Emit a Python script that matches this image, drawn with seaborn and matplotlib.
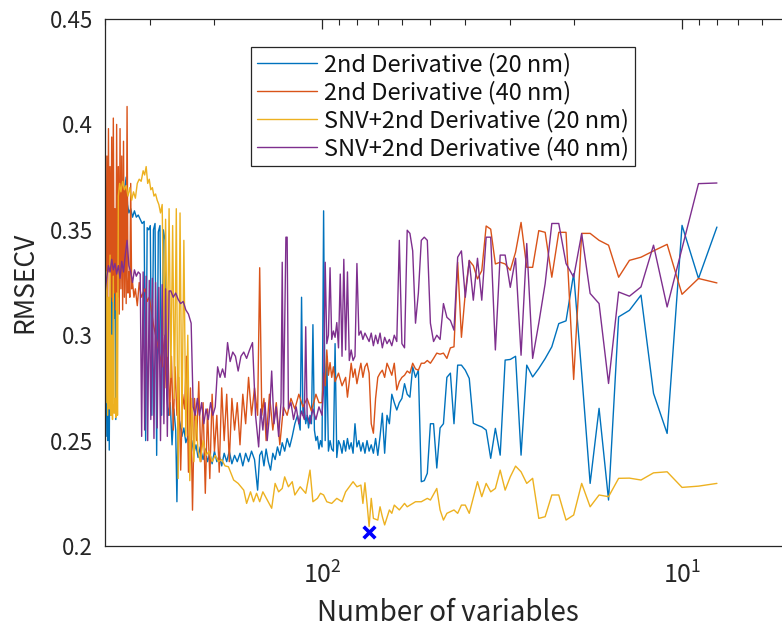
import matplotlib
matplotlib.use("Agg")
import matplotlib.pyplot as plt
import pandas as pd
import seaborn as sns
from matplotlib.ticker import LogLocator, NullLocator, NullFormatter, FixedLocator, FixedFormatter

# ---------------- data ----------------
series_names = ["2nd Derivative (20 nm)", "2nd Derivative (40 nm)",
                "SNV+2nd Derivative (20 nm)", "SNV+2nd Derivative (40 nm)"]
series_colors = ["#0072BD", "#D95319", "#EDB120", "#7E2F8E"]

# (number of variables, RMSECV)
blue_pts = [
    (400, 0.330), (398, 0.252), (396, 0.343), (394, 0.250), (392, 0.300), (390, 0.2455),
    (388, 0.318), (386, 0.262), (384, 0.330), (382, 0.290), (380, 0.325), (378, 0.308),
    (376, 0.320), (374, 0.260), (372, 0.330), (370, 0.328), (368, 0.340), (364, 0.362),
    (360, 0.368), (356, 0.365), (353, 0.370), (350, 0.375), (347, 0.362), (344, 0.358),
    (340, 0.360), (336, 0.356), (332, 0.359), (328, 0.356), (324, 0.357), (320, 0.355),
    (316, 0.353), (312, 0.354), (309, 0.250), (306, 0.351), (303, 0.350), (300, 0.352),
    (297, 0.262), (294, 0.350), (291, 0.353), (288, 0.243), (285, 0.349), (282, 0.352),
    (279, 0.262), (276, 0.350), (273, 0.345), (270, 0.272), (267, 0.262), (264, 0.268),
    (261, 0.248), (258, 0.265), (255, 0.255), (253, 0.221), (251, 0.262), (248, 0.258),
    (245, 0.252), (242, 0.256), (239, 0.249), (236, 0.252), (233, 0.247), (230, 0.250),
    (227, 0.244), (224, 0.248), (221, 0.242), (218, 0.247), (214, 0.241), (211, 0.246),
    (208, 0.240), (205, 0.244), (202, 0.239), (199, 0.245), (196, 0.240), (193, 0.243),
    (190, 0.238), (187, 0.244), (184, 0.240), (181, 0.245), (178, 0.239), (175, 0.243),
    (172, 0.240), (169, 0.244), (166, 0.238), (163, 0.244), (160, 0.240), (157, 0.245),
    (154, 0.241), (151, 0.2265), (149, 0.243), (147, 0.245), (145, 0.238), (143, 0.246),
    (141, 0.240), (139, 0.236), (137, 0.244), (135, 0.241), (133, 0.247), (131, 0.243),
    (129, 0.249), (127, 0.245), (125, 0.251), (123, 0.247), (121, 0.252), (119, 0.258),
    (117, 0.262), (115, 0.255), (114, 0.318), (113, 0.262), (112, 0.266), (111, 0.258),
    (110, 0.262), (109, 0.256), (108, 0.262), (107, 0.258), (106, 0.305), (105, 0.255),
    (104, 0.250), (103, 0.252), (102, 0.246), (101, 0.250), (100, 0.247), (99, 0.359),
    (98, 0.250), (97, 0.290), (96, 0.245), (95, 0.250), (94, 0.246), (93, 0.245),
    (92, 0.296), (91, 0.242), (90, 0.250), (89, 0.248), (88, 0.244), (87, 0.250),
    (86, 0.245), (85, 0.251), (84, 0.246), (83, 0.249), (82, 0.244), (81, 0.258),
    (80, 0.247), (79, 0.250), (78, 0.245), (77, 0.249), (76, 0.244), (75, 0.250),
    (74, 0.245), (73, 0.248), (72, 0.244), (71, 0.251), (70, 0.243), (69, 0.252),
    (68, 0.263), (67, 0.244), (66, 0.262), (65, 0.258), (64, 0.272), (63, 0.268),
    (62, 0.2645), (61, 0.268), (60, 0.270), (59, 0.277), (58, 0.272), (57, 0.2706),
    (56, 0.285), (55, 0.280), (54, 0.2834), (53, 0.2305), (52, 0.231), (51, 0.2345),
    (50, 0.258), (49, 0.258), (48, 0.237), (47, 0.256), (46, 0.258), (45, 0.280),
    (44, 0.282), (43, 0.258), (42, 0.2858), (41, 0.2858), (40, 0.2834), (39, 0.2795),
    (38, 0.2582), (37, 0.2573), (36, 0.2565), (35, 0.255), (34, 0.2416), (33, 0.2558),
    (32, 0.2431), (31, 0.2882), (30, 0.2885), (29, 0.290), (28, 0.2431), (27, 0.2858),
    (26, 0.2802), (25, 0.2842), (24, 0.2889), (23, 0.2945), (22, 0.3055), (21, 0.3068),
    (20, 0.3292), (19, 0.282), (18, 0.2297), (17, 0.2653), (16, 0.2218), (15, 0.3087),
    (14, 0.3118), (13, 0.3190), (12, 0.2724), (11, 0.2534), (10, 0.3521), (9, 0.3269),
    (8, 0.3513),
]

orange_pts = [
    (400, 0.370), (398, 0.315), (396, 0.385), (394, 0.312), (392, 0.398), (390, 0.330),
    (388, 0.380), (386, 0.318), (384, 0.394), (382, 0.316), (380, 0.403), (378, 0.320),
    (376, 0.360), (374, 0.312), (372, 0.400), (370, 0.318), (368, 0.380), (366, 0.310),
    (364, 0.398), (362, 0.322), (360, 0.385), (358, 0.312), (356, 0.392), (354, 0.318),
    (352, 0.370), (350, 0.315), (348, 0.4085), (346, 0.320), (344, 0.330), (342, 0.318),
    (340, 0.372), (338, 0.322), (336, 0.325), (333, 0.318), (330, 0.322), (326, 0.314),
    (322, 0.325), (318, 0.318), (314, 0.320), (310, 0.322), (306, 0.316), (302, 0.318),
    (298, 0.312), (294, 0.305), (290, 0.300), (286, 0.295), (282, 0.290), (278, 0.285),
    (274, 0.300), (271, 0.275), (268, 0.295), (265, 0.262), (262, 0.290), (259, 0.255),
    (256, 0.285), (253, 0.262), (250, 0.280), (247, 0.236), (244, 0.272), (241, 0.265),
    (238, 0.290), (235, 0.235), (232, 0.275), (229, 0.217), (226, 0.270), (223, 0.250),
    (220, 0.278), (217, 0.240), (214, 0.268), (211, 0.225), (208, 0.265), (205, 0.232),
    (202, 0.272), (199, 0.245), (196, 0.262), (193, 0.235), (190, 0.275), (187, 0.250),
    (184, 0.272), (181, 0.240), (178, 0.270), (175, 0.255), (172, 0.268), (169, 0.248),
    (166, 0.272), (163, 0.258), (160, 0.280), (157, 0.262), (154, 0.275), (151, 0.262),
    (149, 0.332), (147, 0.262), (145, 0.270), (143, 0.250), (140, 0.272), (137, 0.255),
    (134, 0.268), (131, 0.248), (128, 0.266), (125, 0.262), (122, 0.270), (119, 0.265),
    (116, 0.272), (113, 0.266), (110, 0.270), (107, 0.264), (104, 0.272), (102, 0.268),
    (100, 0.268), (99, 0.282), (98, 0.276), (97, 0.293), (96, 0.281), (95, 0.287),
    (94, 0.280), (93, 0.285), (92, 0.278), (90, 0.282), (88, 0.276), (86, 0.280),
    (85, 0.2706), (84, 0.278), (83, 0.2867), (82, 0.280), (81, 0.284), (80, 0.277),
    (79, 0.282), (78, 0.2867), (77, 0.280), (76, 0.285), (75, 0.2867), (74, 0.282),
    (73, 0.258), (72, 0.2535), (71, 0.270), (70, 0.280), (69, 0.282), (68, 0.2834),
    (67, 0.280), (66, 0.2867), (65, 0.284), (64, 0.281), (63, 0.2867), (62, 0.274),
    (61, 0.278), (60, 0.280), (59, 0.281), (58, 0.283), (57, 0.282), (56, 0.2867),
    (55, 0.284), (54, 0.2834), (53, 0.2867), (52, 0.2867), (51, 0.288), (50, 0.2867),
    (49, 0.289), (48, 0.2915), (47, 0.291), (46, 0.2915), (45, 0.289), (44, 0.294),
    (43, 0.2945), (42, 0.3346), (41, 0.299), (40, 0.320), (39, 0.3354), (38, 0.333),
    (37, 0.3267), (36, 0.3306), (35, 0.3518), (34, 0.3503), (33, 0.3338), (32, 0.3346),
    (31, 0.3338), (30, 0.3308), (29, 0.3394), (28, 0.3535), (27, 0.3322), (26, 0.3322),
    (25, 0.3496), (24, 0.3488), (23, 0.3275), (22, 0.3488), (21, 0.3488), (20, 0.279),
    (19, 0.3483), (18, 0.3483), (17, 0.345), (16, 0.3427), (15, 0.3275), (14, 0.3355),
    (13, 0.337), (12, 0.340), (11, 0.3431), (10, 0.3194), (9, 0.3269), (8, 0.3248),
]

yellow_pts = [
    (400, 0.340), (398, 0.268), (396, 0.330), (394, 0.262), (392, 0.318), (390, 0.265),
    (388, 0.338), (386, 0.262), (384, 0.300), (382, 0.260), (380, 0.328), (378, 0.263),
    (376, 0.270), (374, 0.261), (372, 0.320), (370, 0.262), (368, 0.366), (365, 0.372),
    (362, 0.368), (358, 0.373), (354, 0.369), (350, 0.371), (346, 0.366), (342, 0.370),
    (338, 0.364), (334, 0.368), (330, 0.365), (326, 0.372), (322, 0.374), (318, 0.373),
    (314, 0.378), (311, 0.376), (308, 0.380), (305, 0.372), (302, 0.374), (299, 0.369),
    (296, 0.370), (293, 0.366), (290, 0.367), (287, 0.364), (284, 0.362), (281, 0.358),
    (278, 0.362), (275, 0.300), (272, 0.355), (269, 0.290), (266, 0.360), (263, 0.280),
    (260, 0.352), (257, 0.270), (254, 0.360), (251, 0.232), (248, 0.358), (245, 0.256),
    (242, 0.345), (239, 0.252), (236, 0.300), (233, 0.231), (230, 0.270), (227, 0.240),
    (224, 0.262), (221, 0.245), (218, 0.240), (214, 0.250), (210, 0.243), (206, 0.245),
    (202, 0.240), (198, 0.243), (194, 0.240), (190, 0.241), (186, 0.238), (182, 0.2376),
    (176, 0.2313), (171, 0.2297), (165, 0.2265), (162, 0.2202), (158, 0.2257), (155, 0.221),
    (152, 0.225), (149, 0.221), (146, 0.2257), (142, 0.2218), (138, 0.2179), (135, 0.2297),
    (132, 0.2257), (129, 0.2273), (127, 0.2328), (124, 0.2281), (121, 0.2305), (119, 0.2242),
    (115, 0.2281), (111, 0.2250), (108, 0.236), (106, 0.2210), (103, 0.2226), (101, 0.225),
    (99, 0.2242), (97, 0.221), (94, 0.2202), (91, 0.2226), (88, 0.221), (86, 0.2257),
    (84, 0.2281), (82, 0.2305), (80, 0.2281), (78, 0.2289), (77, 0.2202), (76, 0.230),
    (75, 0.2202), (74, 0.2092), (73, 0.2226), (72, 0.2131), (70, 0.2123), (69, 0.2186),
    (68, 0.2139), (67, 0.210), (65, 0.2171), (64, 0.2155), (63, 0.2194), (61, 0.2171),
    (59, 0.2202), (58, 0.2186), (56, 0.2202), (55, 0.221), (53, 0.221), (51, 0.2226),
    (50, 0.2218), (48, 0.2273), (47, 0.2171), (46, 0.2123), (45, 0.2155), (44, 0.2163),
    (43, 0.2171), (42, 0.2155), (41, 0.2194), (40, 0.2194), (39, 0.2155), (37, 0.2305),
    (36, 0.2234), (35, 0.2297), (34, 0.2257), (33, 0.2273), (32, 0.236), (31, 0.2265),
    (30, 0.2328), (29, 0.2379), (28, 0.2352), (27, 0.2297), (26, 0.2321), (25, 0.2131),
    (24, 0.2139), (23, 0.2242), (22, 0.2242), (21, 0.2123), (20, 0.2147), (19, 0.2297),
    (18, 0.2186), (17, 0.2242), (16, 0.2234), (15, 0.2321), (14, 0.2322), (13, 0.2313),
    (12, 0.2347), (11, 0.2352), (10, 0.2278), (9, 0.2284), (8, 0.2297),
]

purple_pts = [
    (400, 0.3213), (396, 0.328), (392, 0.333), (388, 0.330), (384, 0.336), (380, 0.331),
    (376, 0.334), (372, 0.329), (368, 0.333), (364, 0.327), (360, 0.335), (356, 0.330),
    (352, 0.338), (348, 0.345), (344, 0.333), (340, 0.330), (336, 0.325), (332, 0.331),
    (328, 0.328), (324, 0.330), (320, 0.329), (317, 0.252), (314, 0.330), (311, 0.255),
    (308, 0.328), (305, 0.250), (302, 0.326), (299, 0.260), (296, 0.327), (293, 0.251),
    (290, 0.325), (287, 0.256), (284, 0.3227), (281, 0.250), (278, 0.324), (275, 0.258),
    (272, 0.322), (269, 0.252), (266, 0.321), (263, 0.321), (259, 0.318), (255, 0.320),
    (251, 0.317), (247, 0.315), (243, 0.316), (239, 0.312), (235, 0.310), (231, 0.3057),
    (228, 0.266), (225, 0.262), (222, 0.270), (219, 0.262), (216, 0.268), (213, 0.258),
    (210, 0.265), (207, 0.260), (204, 0.268), (201, 0.262), (198, 0.266), (195, 0.285),
    (192, 0.280), (189, 0.284), (186, 0.280), (183, 0.2965), (180, 0.2875), (177, 0.292),
    (174, 0.290), (171, 0.283), (168, 0.290), (165, 0.292), (162, 0.289), (159, 0.293),
    (156, 0.2965), (153, 0.262), (150, 0.247), (148, 0.265), (146, 0.255), (144, 0.268),
    (142, 0.250), (140, 0.262), (138, 0.283), (136, 0.258), (134, 0.266), (132, 0.252),
    (130, 0.268), (129, 0.3346), (128, 0.262), (126, 0.3465), (125, 0.3465), (124, 0.265),
    (122, 0.268), (120, 0.260), (118, 0.266), (116, 0.258), (114, 0.264), (112, 0.260),
    (111, 0.304), (110, 0.262), (108, 0.258), (106, 0.265), (104, 0.260), (102, 0.266),
    (100, 0.262), (99, 0.275), (98, 0.3346), (97, 0.296), (96, 0.300), (95, 0.332),
    (94, 0.298), (93, 0.302), (92, 0.299), (91, 0.306), (90, 0.294), (89, 0.329),
    (88, 0.290), (87, 0.336), (86, 0.293), (85, 0.330), (84, 0.288), (83, 0.293),
    (82, 0.288), (81, 0.290), (80, 0.334), (79, 0.300), (78, 0.302), (77, 0.298),
    (76, 0.301), (75, 0.299), (74, 0.297), (73, 0.301), (72, 0.295), (71, 0.300),
    (70, 0.296), (69, 0.301), (68, 0.294), (67, 0.299), (66, 0.296), (65, 0.298),
    (64, 0.295), (63, 0.300), (62, 0.297), (61, 0.345), (60, 0.296), (59, 0.294),
    (58, 0.3498), (57, 0.3483), (56, 0.340), (55, 0.3057), (54, 0.320), (53, 0.345),
    (52, 0.3465), (51, 0.345), (50, 0.3057), (49, 0.297), (48, 0.300), (47, 0.298),
    (46, 0.315), (45, 0.3085), (44, 0.307), (43, 0.3024), (42, 0.337), (41, 0.340),
    (40, 0.318), (39, 0.3355), (38, 0.3166), (37, 0.3365), (36, 0.3166), (35, 0.3465),
    (34, 0.3465), (33, 0.293), (32, 0.338), (31, 0.338), (30, 0.3227), (29, 0.3365),
    (28, 0.2905), (27, 0.3435), (26, 0.289), (25, 0.3057), (24, 0.3245), (23, 0.353),
    (22, 0.353), (21, 0.334), (20, 0.3275), (19, 0.3482), (18, 0.3198), (17, 0.315),
    (16, 0.2771), (15, 0.3205), (14, 0.3185), (13, 0.3229), (12, 0.3427), (11, 0.3134),
    (10, 0.3411), (9, 0.3719), (8, 0.3722),
]

best_n = [74]
best_rmsecv = [0.2068]

y_ticks = [0.2, 0.25, 0.3, 0.35, 0.4, 0.45]
y_tick_labels = ["0.2", "0.25", "0.3", "0.35", "0.4", "0.45"]
x_label = "Number of variables"
y_label = "RMSECV"

# ---------------- build table ----------------
frames = []
for name, pts in zip(series_names, [blue_pts, orange_pts, yellow_pts, purple_pts]):
    n_vals, r_vals = zip(*pts)
    frames.append(pd.DataFrame({"n": n_vals, "rmsecv": r_vals, "series": name}))
df = pd.concat(frames, ignore_index=True)

# ---------------- style ----------------
sns.set_theme(style="white")
plt.rcParams["font.family"] = ["Noto Sans CJK JP", "DejaVu Sans"]
axis_color = "#262626"

fig = plt.figure(figsize=(7.82, 6.30), dpi=100)
ax = fig.add_axes([105.3 / 782, 84 / 630, 685.1 / 782, 527 / 630])
ax.set_xscale("log")

sns.lineplot(data=df, x="n", y="rmsecv", hue="series", hue_order=series_names,
             palette=series_colors, estimator=None, sort=True, linewidth=1.0, ax=ax)
sns.scatterplot(x=best_n, y=best_rmsecv, marker="x", color="#0000FF", s=70,
                linewidth=2.6, ax=ax, legend=False, zorder=10)

ax.set_xlim(400, 5)
ax.set_ylim(0.2, 0.45)
ax.xaxis.set_major_locator(LogLocator(base=10))
ax.xaxis.set_minor_locator(LogLocator(base=10, subs=range(2, 10)))
ax.xaxis.set_minor_formatter(NullFormatter())
ax.yaxis.set_major_locator(FixedLocator(y_ticks))
ax.yaxis.set_major_formatter(FixedFormatter(y_tick_labels))
ax.yaxis.set_minor_locator(NullLocator())

for s in ax.spines.values():
    s.set_visible(True)
    s.set_color(axis_color)
    s.set_linewidth(0.9)

ax.tick_params(which="both", direction="in", top=True, right=False, color=axis_color,
               labelcolor=axis_color)
ax.tick_params(which="major", length=7, width=0.9)
ax.tick_params(which="minor", length=4, width=0.8)
ax.tick_params(axis="y", pad=9, labelsize=16)
ax.tick_params(axis="x", pad=12, labelsize=18)

ax.set_xlabel(x_label, fontsize=20, color=axis_color, labelpad=6)
ax.set_ylabel(y_label, fontsize=19, color=axis_color, labelpad=8)

handles, labels = ax.get_legend_handles_labels()
leg = ax.legend(handles[:4], labels[:4], loc="upper left",
                bbox_to_anchor=((251 - 105.3) / 685.1, (546 - 47) / 527),
                borderaxespad=0, frameon=True, fancybox=False, framealpha=1,
                edgecolor=axis_color, fontsize=17, handlelength=2.55,
                handletextpad=0.3, borderpad=0.25, labelspacing=0.18)
leg.get_frame().set_linewidth(0.9)
for t in leg.get_texts():
    t.set_color("#111111")
for h in leg.get_lines():
    h.set_linewidth(1.0)

fig.savefig("out.png", dpi=100)
